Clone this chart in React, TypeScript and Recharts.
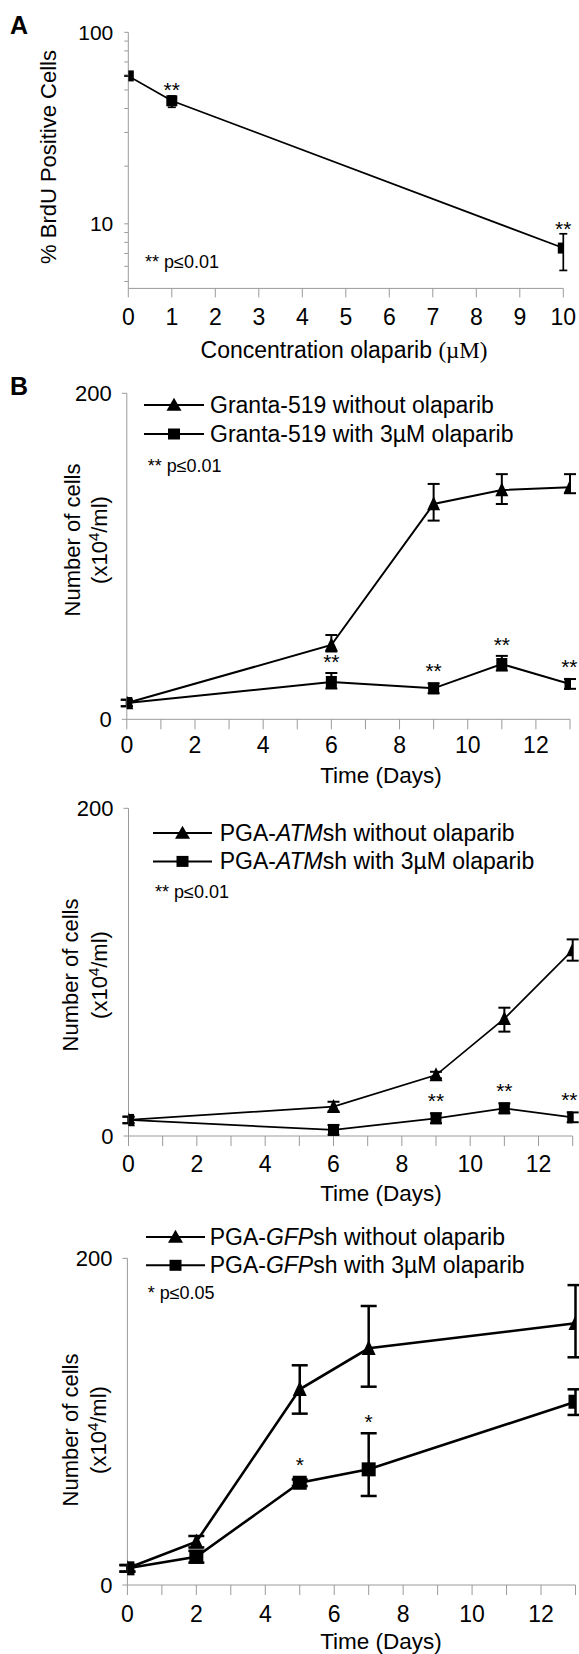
import React from 'react';
import { LineChart, Line, XAxis, YAxis, ErrorBar, LabelList, Legend } from 'recharts';

const FONT = '"Liberation Sans", Arial, Helvetica, sans-serif';
const SERIF = '"Liberation Serif", "Times New Roman", serif';
const INK = '#000';
const AXIS = '#9a9a9a';
const W = 579;
const Y_W = 60;
const X_H = 40;

// ---------- Panel A : BrdU vs olaparib concentration ----------
const concA = [0, 1, 10];
const brduPct = [59.2, 43.9, 7.47];
const brduErrLow = [0, 3.3, 1.76];
const brduErrHigh = [0, 2.6, 1.4];
const brduSig = ['', '**', '**'];
const concTicks = [0, 1, 2, 3, 4, 5, 6, 7, 8, 9, 10];
const logTicks = [5, 6, 7, 8, 9, 10, 20, 30, 40, 50, 60, 70, 80, 90, 100];
const logLabels = [10, 100];
const logMin = 4.6;

// ---------- Panel B1 : Granta-519 ----------
const daysGranta = [0, 6, 9, 11, 13];
const grantaNo = [10, 45.6, 132.1, 140.7, 142.4];
const grantaNoLo = [2, 4, 10.2, 8.6, 3.7];
const grantaNoHi = [2, 6.1, 12.3, 9.7, 8];
const grantaOla = [10, 22.9, 19, 33.9, 21.7];
const grantaOlaLo = [2, 4, 3, 4, 3];
const grantaOlaHi = [2, 5.5, 3, 5, 3];
const grantaSig = ['', '**', '**', '**', '**'];

// ---------- Panel B2 : PGA-ATMsh ----------
const daysATM = [0, 6, 9, 11, 13];
const atmNo = [9.8, 17.9, 37.2, 71.6, 113.5];
const atmNoLo = [2, 3, 2, 7.9, 6.5];
const atmNoHi = [2, 3, 2, 6.7, 6.5];
const atmOla = [9.8, 3.7, 10.8, 16.9, 11.4];
const atmOlaLo = [2, 3, 3, 3, 3];
const atmOlaHi = [2, 3, 3, 3, 3];
const atmSig = ['', '', '**', '**', '**'];

// ---------- Panel B3 : PGA-GFPsh ----------
const daysGFP = [0, 2, 5, 7, 13];
const gfpNo = [10.2, 26.5, 119.8, 144.9, 160.2];
const gfpNoLo = [2, 3.5, 14.9, 23.5, 20.8];
const gfpNoHi = [2, 3.5, 14.7, 25.9, 23.4];
const gfpOla = [10.2, 17.3, 62.6, 70.8, 112.2];
const gfpOlaLo = [2, 3.6, 2, 16.3, 8.1];
const gfpOlaHi = [2, 3.6, 2, 22.1, 7.6];
const gfpSig = ['', '', '*', '*', ''];

const dayTicks = [0, 1, 2, 3, 4, 5, 6, 7, 8, 9, 10, 11, 12, 13];
const countTicks = [0, 200];

type Part = { t: string; i?: boolean };
const grantaLegend: Part[][] = [
  [{ t: 'Granta-519 without olaparib' }],
  [{ t: 'Granta-519 with 3µM olaparib' }],
];
const atmLegend: Part[][] = [
  [{ t: 'PGA-' }, { t: 'ATM', i: true }, { t: 'sh without olaparib' }],
  [{ t: 'PGA-' }, { t: 'ATM', i: true }, { t: 'sh with 3µM olaparib' }],
];
const gfpLegend: Part[][] = [
  [{ t: 'PGA-' }, { t: 'GFP', i: true }, { t: 'sh without olaparib' }],
  [{ t: 'PGA-' }, { t: 'GFP', i: true }, { t: 'sh with 3µM olaparib' }],
];
const partsText = (p: Part[]) => p.map((x) => x.t).join('');

// ---------- marker shapes ----------
const squareShape = (cx: number, cy: number, w: number, h: number, key: string) => (
  <rect key={key} x={cx - w / 2} y={cy - h / 2} width={w} height={h} fill={INK} />
);
const triShape = (cx: number, cy: number, w: number, h: number, key: string) => (
  <path
    key={key}
    d={`M${cx},${cy - h * 0.55} L${cx + w / 2},${cy + h * 0.45} L${cx - w / 2},${cy + h * 0.45} Z`}
    fill={INK}
  />
);
const squareDot = (w: number, h: number) => (p: any) => {
  const k = `sq-${p.index}`;
  if (p.cx == null || p.cy == null) return <g key={k} />;
  return squareShape(p.cx, p.cy, w, h, k);
};
const triDot = (w: number, h: number) => (p: any) => {
  const k = `tri-${p.index}`;
  if (p.cx == null || p.cy == null) return <g key={k} />;
  return triShape(p.cx, p.cy, w, h, k);
};

const STAR_FS = 21;
const starText = (x: number, centerY: number, s: string, key: string) => {
  const half = (s.length * 0.389 * STAR_FS) / 2;
  const cx = Math.min(x, W - 1.5 - half);
  return (
    <text key={key} x={cx} y={centerY + 0.56 * STAR_FS} textAnchor="middle" fontSize={STAR_FS} fontFamily={FONT} fill={INK}>
      {s}
    </text>
  );
};

type Box = { left: number; right: number; top: number; bottom: number };

// ---------- Panel A ----------
function PanelA() {
  const top = 0;
  const height = 340;
  const plot: Box = { left: 128.3, right: 563.3, top: 32.3, bottom: 288.4 };
  const margin = {
    top: plot.top - top,
    left: plot.left - Y_W,
    right: W - plot.right,
    bottom: top + height - plot.bottom - X_H,
  };
  const data = concA.map((c, i) => ({
    conc: c,
    pct: brduPct[i],
    err: [brduErrLow[i], brduErrHigh[i]],
    sig: brduSig[i],
  }));
  const pxPerDecade = (plot.bottom - plot.top) / (2 - Math.log10(logMin));
  const star = (p: any) => {
    const i = p.index;
    const s = brduSig[i];
    if (!s) return null;
    const x = p.viewBox?.x ?? p.x;
    const y = p.viewBox?.y ?? p.y;
    const v = brduPct[i];
    const errTop = y - (Math.log10(v + brduErrHigh[i]) - Math.log10(v)) * pxPerDecade;
    return starText(x, Math.min(errTop, y - 5.5) - 10, s, `starA-${i}`);
  };
  return (
    <div style={{ position: 'absolute', left: 0, top }}>
      <LineChart width={W} height={height} data={data} margin={margin}>
        <XAxis
          dataKey="conc"
          type="number"
          domain={[0, 10]}
          ticks={concTicks}
          interval={0}
          height={X_H}
          tickSize={9}
          tickMargin={11}
          axisLine={{ stroke: AXIS }}
          tickLine={{ stroke: AXIS }}
          tick={{ fill: INK, fontSize: 23, fontFamily: FONT }}
          allowDataOverflow
        />
        <YAxis
          type="number"
          scale="log"
          domain={[logMin, 100]}
          ticks={logTicks}
          interval={0}
          allowDataOverflow
          width={Y_W}
          tickSize={4}
          tickMargin={11}
          tickFormatter={(v: number) => (logLabels.includes(v) ? String(v) : '')}
          axisLine={{ stroke: AXIS }}
          tickLine={{ stroke: AXIS }}
          tick={{ fill: INK, fontSize: 21, fontFamily: FONT }}
        />
        <Line
          dataKey="pct"
          name="% BrdU positive cells"
          stroke={INK}
          strokeWidth={1.7}
          dot={squareDot(11, 11)}
          activeDot={false}
          isAnimationActive={false}
        >
          <ErrorBar dataKey="err" direction="y" width={4} strokeWidth={1.7} stroke={INK} />
          <LabelList dataKey="sig" content={star} />
        </Line>
      </LineChart>
    </div>
  );
}

// ---------- Growth panels ----------
type GrowthProps = {
  top: number;
  height: number;
  plot: Box;
  days: number[];
  noOla: number[];
  noLo: number[];
  noHi: number[];
  ola: number[];
  olaLo: number[];
  olaHi: number[];
  sig: string[];
  legendRows: Part[][];
  legend: { left: number; top: number; dy: number; lineLen: number; textX: number };
  lineW: number;
  errW: number;
  errStroke: number;
  tri: [number, number];
  sq: [number, number];
  xTickMargin: number;
  id: string;
};

function GrowthPanel(props: GrowthProps) {
  const { plot } = props;
  const margin = {
    top: plot.top - props.top,
    left: plot.left - Y_W,
    right: W - plot.right,
    bottom: props.top + props.height - plot.bottom - X_H,
  };
  const data = props.days.map((d, i) => ({
    day: d,
    no: props.noOla[i],
    noErr: [props.noLo[i], props.noHi[i]],
    ola: props.ola[i],
    olaErr: [props.olaLo[i], props.olaHi[i]],
    sig: props.sig[i],
  }));
  const pxPerUnit = (plot.bottom - plot.top) / 200;
  const star = (p: any) => {
    const i = p.index;
    const s = props.sig[i];
    if (!s) return null;
    const x = p.viewBox?.x ?? p.x;
    const y = p.viewBox?.y ?? p.y;
    const errTop = y - props.olaHi[i] * pxPerUnit;
    const top = Math.min(errTop, y - props.sq[1] / 2);
    return starText(x, top - 16, s, `star-${props.id}-${i}`);
  };
  const lg = props.legend;
  const legendContent = () => (
    <svg width={440} height={64} style={{ overflow: 'visible', display: 'block' }}>
      {props.legendRows.map((parts, r) => {
        const cy = 15 + r * lg.dy;
        const x0 = 2;
        const x1 = 2 + lg.lineLen;
        const mx = (x0 + x1) / 2;
        return (
          <g key={`lg-${r}`}>
            <line x1={x0} y1={cy} x2={x1} y2={cy} stroke={INK} strokeWidth={2} />
            {r === 0 ? triShape(mx, cy, 15, 13, `lgm-${r}`) : squareShape(mx, cy, 12, 11, `lgm-${r}`)}
            <text x={lg.textX} y={cy + 8} fontSize={23} fontFamily={FONT} fill={INK}>
              {parts.map((pt, k) => (
                <tspan key={k} fontStyle={pt.i ? 'italic' : 'normal'}>
                  {pt.t}
                </tspan>
              ))}
            </text>
          </g>
        );
      })}
    </svg>
  );
  return (
    <div style={{ position: 'absolute', left: 0, top: props.top }}>
      <LineChart width={W} height={props.height} data={data} margin={margin}>
        <XAxis
          dataKey="day"
          type="number"
          domain={[0, 13]}
          ticks={dayTicks}
          interval={0}
          tickFormatter={(v: number) => (v % 2 === 0 ? String(v) : '')}
          height={X_H}
          tickSize={10}
          tickMargin={props.xTickMargin}
          axisLine={{ stroke: AXIS }}
          tickLine={{ stroke: AXIS }}
          tick={{ fill: INK, fontSize: 23, fontFamily: FONT }}
          allowDataOverflow
        />
        <YAxis
          type="number"
          domain={[0, 200]}
          ticks={countTicks}
          interval={0}
          allowDataOverflow
          width={Y_W}
          tickSize={5}
          tickMargin={10}
          axisLine={{ stroke: AXIS }}
          tickLine={{ stroke: AXIS }}
          tick={{ fill: INK, fontSize: 22, fontFamily: FONT }}
        />
        <Line
          dataKey="no"
          name={partsText(props.legendRows[0])}
          stroke={INK}
          strokeWidth={props.lineW}
          dot={triDot(props.tri[0], props.tri[1])}
          activeDot={false}
          isAnimationActive={false}
        >
          <ErrorBar dataKey="noErr" direction="y" width={props.errW} strokeWidth={props.errStroke} stroke={INK} />
        </Line>
        <Line
          dataKey="ola"
          name={partsText(props.legendRows[1])}
          stroke={INK}
          strokeWidth={props.lineW}
          dot={squareDot(props.sq[0], props.sq[1])}
          activeDot={false}
          isAnimationActive={false}
        >
          <ErrorBar dataKey="olaErr" direction="y" width={props.errW} strokeWidth={props.errStroke} stroke={INK} />
          <LabelList dataKey="sig" content={star} />
        </Line>
        <Legend
          layout="vertical"
          align="center"
          verticalAlign="middle"
          content={legendContent}
          wrapperStyle={{ left: lg.left, top: lg.top, width: 440, height: 64, margin: 0, padding: 0 }}
        />
      </LineChart>
    </div>
  );
}

// ---------- text overlay (panel letters, axis titles, notes) ----------
function RotTitle({ cx, cy, text, fs }: { cx: number; cy: number; text: React.ReactNode; fs: number }) {
  return (
    <g transform={`translate(${cx},${cy}) rotate(-90)`}>
      <text x={0} y={0.35 * fs} textAnchor="middle" fontSize={fs} fontFamily={FONT} fill={INK}>
        {text}
      </text>
    </g>
  );
}

const cellsUnit = (
  <>
    <tspan>(x10</tspan>
    <tspan dy={-8} fontSize={15}>4</tspan>
    <tspan dy={8}>/ml)</tspan>
  </>
);

function Overlay() {
  const note = (x: number, cy: number, s: string) => (
    <text x={x} y={cy + 0.35 * 18} fontSize={18} fontFamily={FONT} fill={INK}>
      {s}
    </text>
  );
  const timeTitle = (cy: number) => (
    <text x={381} y={cy + 0.35 * 22.5} textAnchor="middle" fontSize={22.5} fontFamily={FONT} fill={INK}>
      Time (Days)
    </text>
  );
  return (
    <svg width={W} height={1654} style={{ position: 'absolute', left: 0, top: 0, pointerEvents: 'none' }}>
      <text x={10} y={34} fontSize={25} fontWeight="bold" fontFamily={FONT} fill={INK}>A</text>
      <text x={10} y={395} fontSize={25} fontWeight="bold" fontFamily={FONT} fill={INK}>B</text>

      <RotTitle cx={48} cy={157} fs={22} text="% BrdU Positive Cells" />
      <text x={344} y={350 + 0.35 * 23} textAnchor="middle" fontSize={23} fontFamily={FONT} fill={INK}>
        Concentration olaparib <tspan fontFamily={SERIF}>(µM)</tspan>
      </text>
      {note(145, 262, '** p≤0.01')}

      <RotTitle cx={72} cy={540} fs={22} text="Number of cells" />
      <RotTitle cx={99.5} cy={540} fs={22} text={cellsUnit} />
      {timeTitle(775)}
      {note(147.7, 466, '** p≤0.01')}

      <RotTitle cx={70} cy={975} fs={22} text="Number of cells" />
      <RotTitle cx={99} cy={975} fs={22} text={cellsUnit} />
      {timeTitle(1193.5)}
      {note(155, 891.7, '** p≤0.01')}

      <RotTitle cx={70} cy={1430} fs={22} text="Number of cells" />
      <RotTitle cx={98} cy={1430} fs={22} text={cellsUnit} />
      {timeTitle(1641)}
      {note(147.7, 1293, '* p≤0.05')}
    </svg>
  );
}

export default function App() {
  return (
    <div style={{ position: 'absolute', left: 0, top: 0, width: W, height: 1654, background: '#fff', overflow: 'hidden' }}>
      <PanelA />
      <GrowthPanel
        id="granta"
        top={340}
        height={440}
        plot={{ left: 126.8, right: 570, top: 393.3, bottom: 719.3 }}
        days={daysGranta}
        noOla={grantaNo}
        noLo={grantaNoLo}
        noHi={grantaNoHi}
        ola={grantaOla}
        olaLo={grantaOlaLo}
        olaHi={grantaOlaHi}
        sig={grantaSig}
        legendRows={grantaLegend}
        legend={{ left: 142, top: 405 - 15 - 340, dy: 29, lineLen: 60, textX: 68 }}
        lineW={2}
        errW={6}
        errStroke={2}
        tri={[13, 14]}
        sq={[11, 12]}
        xTickMargin={7.6}
      />
      <GrowthPanel
        id="atm"
        top={770}
        height={440}
        plot={{ left: 128.5, right: 572.7, top: 808.3, bottom: 1136 }}
        days={daysATM}
        noOla={atmNo}
        noLo={atmNoLo}
        noHi={atmNoHi}
        ola={atmOla}
        olaLo={atmOlaLo}
        olaHi={atmOlaHi}
        sig={atmSig}
        legendRows={atmLegend}
        legend={{ left: 151, top: 833.3 - 15 - 770, dy: 28.4, lineLen: 59, textX: 68.7 }}
        lineW={1.7}
        errW={6}
        errStroke={2}
        tri={[13, 14]}
        sq={[11, 12]}
        xTickMargin={9.2}
      />
      <GrowthPanel
        id="gfp"
        top={1210}
        height={444}
        plot={{ left: 127.4, right: 575.5, top: 1258.3, bottom: 1585 }}
        days={daysGFP}
        noOla={gfpNo}
        noLo={gfpNoLo}
        noHi={gfpNoHi}
        ola={gfpOla}
        olaLo={gfpOlaLo}
        olaHi={gfpOlaHi}
        sig={gfpSig}
        legendRows={gfpLegend}
        legend={{ left: 144, top: 1236.7 - 15 - 1210, dy: 28.3, lineLen: 59, textX: 65.7 }}
        lineW={2.6}
        errW={8}
        errStroke={2.5}
        tri={[14, 15]}
        sq={[14, 14]}
        xTickMargin={10.2}
      />
      <Overlay />
    </div>
  );
}
